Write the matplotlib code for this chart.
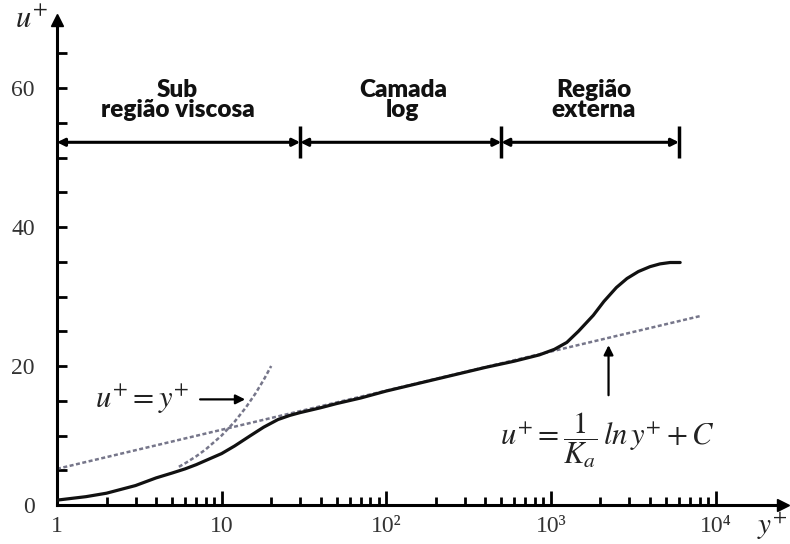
import matplotlib
matplotlib.use("Agg")
import matplotlib.pyplot as plt

plt.rcParams['mathtext.fontset'] = 'stix'
plt.rcParams['font.family'] = ['Liberation Serif', 'DejaVu Serif']

# perfil de velocidade
y_plus = [1, 1.5, 2, 3, 4, 5, 6, 7, 8, 10, 12, 15, 18, 22, 26, 30, 40, 50, 70,
          100, 200, 400, 600, 850, 1050, 1250, 1470, 1810, 2100, 2500, 2900,
          3400, 4000, 4600, 5300, 6100]
u_plus = [0.7, 1.2, 1.7, 2.8, 3.9, 4.6, 5.2, 5.8, 6.4, 7.4, 8.5, 10.0, 11.2,
          12.3, 12.9, 13.3, 14.0, 14.6, 15.4, 16.4, 18.1, 19.8, 20.7, 21.6,
          22.4, 23.4, 25.0, 27.3, 29.3, 31.3, 32.6, 33.6, 34.3, 34.7, 34.9, 34.9]

# sub camada viscosa u+ = y+
y_visc = [5.5, 6, 7, 8, 10, 12, 14, 16, 18, 20]
u_visc = [5.5, 6, 7, 8, 10, 12, 14, 16, 18, 20]

# lei logaritmica
y_log = [1, 8100]
u_log = [5.2, 27.2]

# regioes
region_edges = [1, 30, 500, 6000]
region_names = ["Sub\nregião viscosa", "Camada\nlog", "Região\nexterna"]
region_centers = [5.4, 126, 1820]

ytick_vals = [0, 20, 40, 60]
xtick_vals = [1, 10, 100, 1000, 10000]
xtick_labels = ["1", "10", "10²", "10³", "10⁴"]
xminor = [m * 10**d for d in range(4) for m in range(2, 10)]

fig = plt.figure(figsize=(7.9, 5.44), dpi=100)
ax = fig.add_axes([57/790, 39/544, 726/790, 485/544])

ax.set_xscale('log')
ax.set_xlim(1, 10**4.41)
ax.set_ylim(0, 69.8)

ax.plot(y_plus, u_plus, color='#111111', lw=2.3, solid_capstyle='round',
        solid_joinstyle='round', zorder=3)
ax.plot(y_visc, u_visc, color='#76768a', lw=1.8, ls=(0, (1.6, 1.0)), zorder=2)
ax.plot(y_log, u_log, color='#76768a', lw=1.8, ls=(0, (1.6, 1.0)), zorder=2)

# eixos com setas
for s in ['top', 'right']:
    ax.spines[s].set_visible(False)
for s in ['left', 'bottom']:
    ax.spines[s].set_linewidth(2.2)
ax.plot(1, 0, '>', color='black', ms=9, transform=ax.transAxes, clip_on=False)
ax.plot(0, 1, '^', color='black', ms=9, transform=ax.transAxes, clip_on=False)

ax.set_xticks(xtick_vals)
ax.set_xticklabels(xtick_labels, fontsize=17, color='#333333')
ax.set_xticks(xminor, minor=True)
ax.set_xticklabels([], minor=True)
ax.set_yticks(ytick_vals)
ax.set_yticklabels([str(v) for v in ytick_vals], fontsize=17, color='#333333')
ax.set_yticks(range(5, 70, 5), minor=True)
ax.set_yticklabels([], minor=True)
ax.tick_params(axis='x', which='major', direction='in', length=10, width=2, pad=8)
ax.tick_params(axis='x', which='minor', direction='in', length=6, width=2)
ax.tick_params(axis='y', which='both', direction='in', length=7, width=2, pad=16)

ax.text(-0.035, 1.0, r'$u^{+}$', transform=ax.transAxes, fontsize=22,
        ha='center', va='center', color='#222222')
ax.text(0.985, -0.045, r'$y^{+}$', transform=ax.transAxes, fontsize=21,
        ha='center', va='center', color='#222222')

# faixas das regioes
y_band = 52.2
for a, b in zip(region_edges[:-1], region_edges[1:]):
    ax.annotate('', xy=(b, y_band), xytext=(a, y_band),
                arrowprops=dict(arrowstyle='<|-|>', lw=2.2, color='black',
                                mutation_scale=11, shrinkA=0, shrinkB=0),
                annotation_clip=False)
ax.vlines(region_edges[1:], 50.0, 54.6, colors='black', lw=2.5)
for name, xc in zip(region_names, region_centers):
    ax.text(xc, 58.3, name, ha='center', va='center', fontsize=17.5,
            fontweight='heavy', family='Lato', linespacing=0.85, color='#111111')

# equacoes
ax.text(3.3, 15.2, r'$u^{+} = y^{+}$', ha='center', va='center', fontsize=22,
        color='#222222')
ax.annotate('', xy=(13.9, 15.2), xytext=(7.4, 15.2),
            arrowprops=dict(arrowstyle='-|>', lw=1.6, color='black',
                            mutation_scale=14, shrinkA=0, shrinkB=0))
ax.text(2200, 9.4, r'$u^{+} = \dfrac{1}{K_a}\, ln\, y^{+} + C$', ha='center',
        va='center', fontsize=22, color='#222222')
ax.annotate('', xy=(2240, 23.0), xytext=(2240, 15.8),
            arrowprops=dict(arrowstyle='-|>', lw=1.6, color='black',
                            mutation_scale=14, shrinkA=0, shrinkB=0))

fig.savefig('out.png', dpi=100)
